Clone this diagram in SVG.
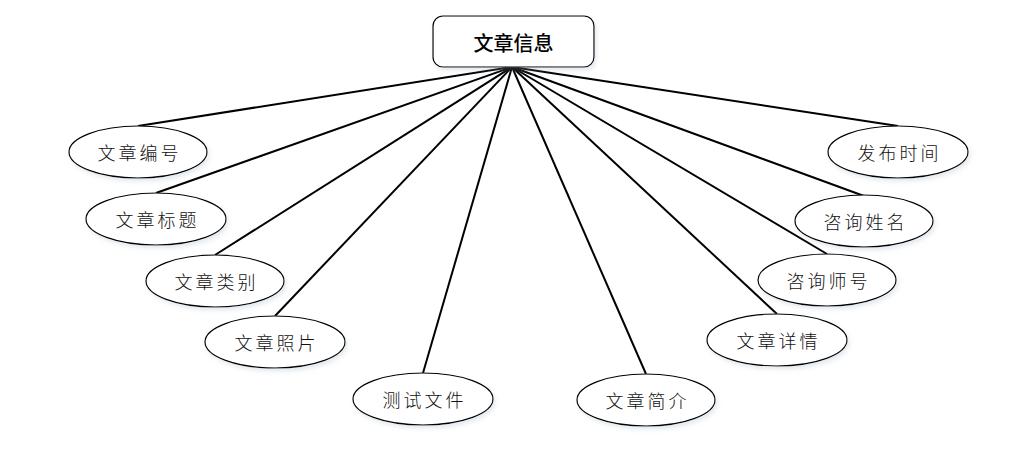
<svg xmlns="http://www.w3.org/2000/svg" width="1031" height="453" viewBox="0 0 1031 453">
<style>
.e{fill:#fff;stroke:#000;stroke-width:1.2}
.t{font-family:"Noto Sans CJK SC","Noto Sans CJK JP",sans-serif;font-size:18px;font-weight:300;letter-spacing:3px;fill:#111;text-anchor:middle;dominant-baseline:central}
.c line{stroke:#000;stroke-width:2}
</style>
<defs>
<filter id="sh" x="-20%" y="-20%" width="140%" height="150%">
<feDropShadow dx="2" dy="3" stdDeviation="2" flood-color="#9ab" flood-opacity="0.25"/>
</filter>
</defs>
<rect width="1031" height="453" fill="#fff"/>
<g class="c" id="connectors">
<line x1="512" y1="67" x2="138" y2="126"/>
<line x1="512" y1="67" x2="156" y2="193"/>
<line x1="512" y1="67" x2="215" y2="255"/>
<line x1="512" y1="67" x2="275" y2="316"/>
<line x1="512" y1="67" x2="423" y2="373"/>
<line x1="512" y1="67" x2="646" y2="374"/>
<line x1="512" y1="67" x2="777" y2="314"/>
<line x1="512" y1="67" x2="827" y2="254"/>
<line x1="512" y1="67" x2="864" y2="196"/>
<line x1="512" y1="67" x2="898" y2="126"/>
</g>
<g id="root">
<rect x="433" y="16" width="161" height="51" rx="10" fill="#fff" stroke="#000" stroke-width="1.2" filter="url(#sh)"/>
<text x="513.5" y="42" font-family="Noto Sans CJK SC,sans-serif" font-size="20" font-weight="500" fill="#000" text-anchor="middle" dominant-baseline="central">文章信息</text>
</g>
<g id="n1"><ellipse class="e" cx="138" cy="152" rx="69" ry="26" filter="url(#sh)"/><text class="t" x="139.5" y="152">文章编号</text></g>
<g id="n2"><ellipse class="e" cx="156" cy="219" rx="70" ry="26" filter="url(#sh)"/><text class="t" x="157.5" y="219">文章标题</text></g>
<g id="n3"><ellipse class="e" cx="215" cy="281" rx="69" ry="26" filter="url(#sh)"/><text class="t" x="216.5" y="281">文章类别</text></g>
<g id="n4"><ellipse class="e" cx="275" cy="342" rx="70" ry="26" filter="url(#sh)"/><text class="t" x="276.5" y="342">文章照片</text></g>
<g id="n5"><ellipse class="e" cx="423" cy="399" rx="70" ry="26" filter="url(#sh)"/><text class="t" x="424.5" y="399">测试文件</text></g>
<g id="n6"><ellipse class="e" cx="646" cy="400" rx="69" ry="26" filter="url(#sh)"/><text class="t" x="647.5" y="400">文章简介</text></g>
<g id="n7"><ellipse class="e" cx="777" cy="340" rx="70" ry="26" filter="url(#sh)"/><text class="t" x="778.5" y="340">文章详情</text></g>
<g id="n8"><ellipse class="e" cx="827" cy="280" rx="69" ry="26" filter="url(#sh)"/><text class="t" x="828.5" y="280">咨询师号</text></g>
<g id="n9"><ellipse class="e" cx="864" cy="221" rx="69" ry="26" filter="url(#sh)"/><text class="t" x="865.5" y="221">咨询姓名</text></g>
<g id="n10"><ellipse class="e" cx="898" cy="152" rx="70" ry="26" filter="url(#sh)"/><text class="t" x="899.5" y="152">发布时间</text></g>
</svg>
